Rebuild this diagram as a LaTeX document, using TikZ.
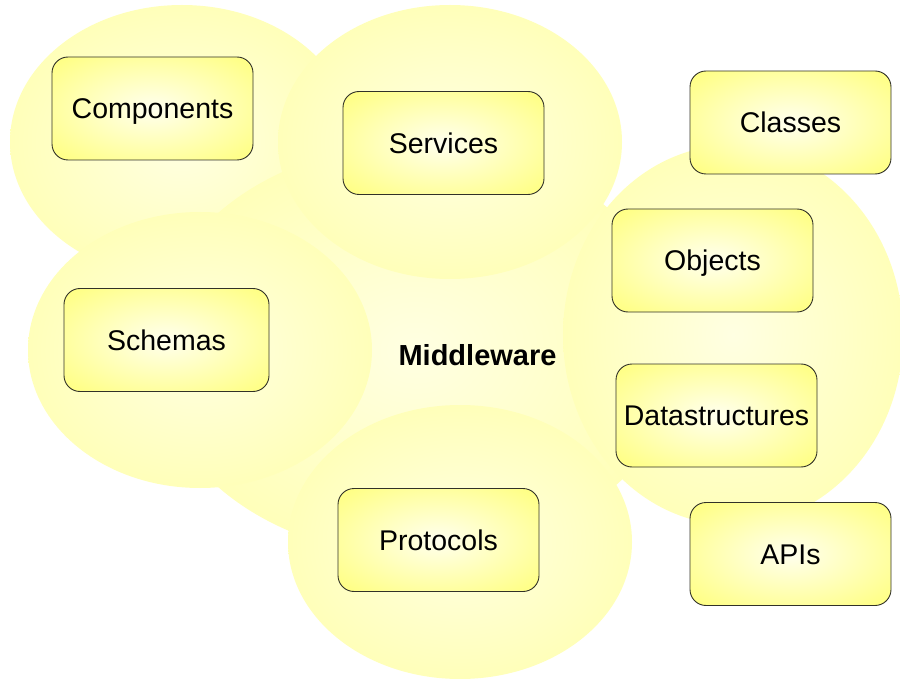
\documentclass[tikz,border=0pt]{standalone}
\usepackage{fontspec}
\setmainfont{Liberation Sans}
\definecolor{blobin}{RGB}{255,255,226}
\definecolor{blobout}{RGB}{255,255,145}
\definecolor{boxin}{RGB}{255,255,238}
\definecolor{boxout}{RGB}{255,255,95}
\definecolor{boxline}{RGB}{50,50,40}
\pgfdeclareradialshading{blobshade}{\pgfpoint{0bp}{0bp}}{color(0bp)=(blobin); color(50bp)=(blobout)}
\pgfdeclareradialshading{boxshade}{\pgfpoint{0bp}{0bp}}{color(0bp)=(boxin); color(45bp)=(boxout); color(50bp)=(boxout)}
\begin{document}
\begin{tikzpicture}[x=1pt,y=-1pt,
  blob/.style={shading=blobshade},
  box/.style={draw=boxline, line width=0.9pt, rounded corners=16pt,
    minimum width=201pt, minimum height=103pt, inner sep=0pt,
    text height=20.4pt, text depth=0pt,
    shading=boxshade, text=black, font=\fontsize{28.5}{34}\selectfont}]
\useasboundingbox (0,0) rectangle (900,679);
\fill[white] (0,0) rectangle (900,679);
% background ellipses
\path[blob] (182,142) ellipse [x radius=172, y radius=137];
\path[blob] (416,350) ellipse [x radius=265, y radius=206];
\path[blob] (450,142) ellipse [x radius=172, y radius=137];
\path[blob] (200,350) ellipse [x radius=172, y radius=138];
\path[blob] (460,542) ellipse [x radius=172, y radius=137];
\path[blob] (733,335) ellipse [x radius=170, y radius=190];
% label of the centre
\node[font=\fontsize{29}{34}\selectfont\bfseries, inner sep=0pt,
  text height=20.8pt, text depth=0pt] (mw) at (477.5,355) {Middleware};
% boxes
\node[box] (comp) at (152.5,108.5) {Components};
\node[box] (serv) at (443.5,143) {Services};
\node[box] (clas) at (790.5,122.5) {Classes};
\node[box] (obj) at (712.5,260.5) {Objects};
\node[box] (data) at (716.5,415.5) {Datastructures};
\node[box] (apis) at (790.5,554) {APIs};
\node[box] (prot) at (438.5,540) {Protocols};
\node[box, minimum width=205pt] (schem) at (166.5,340) {Schemas};
\end{tikzpicture}
\end{document}
